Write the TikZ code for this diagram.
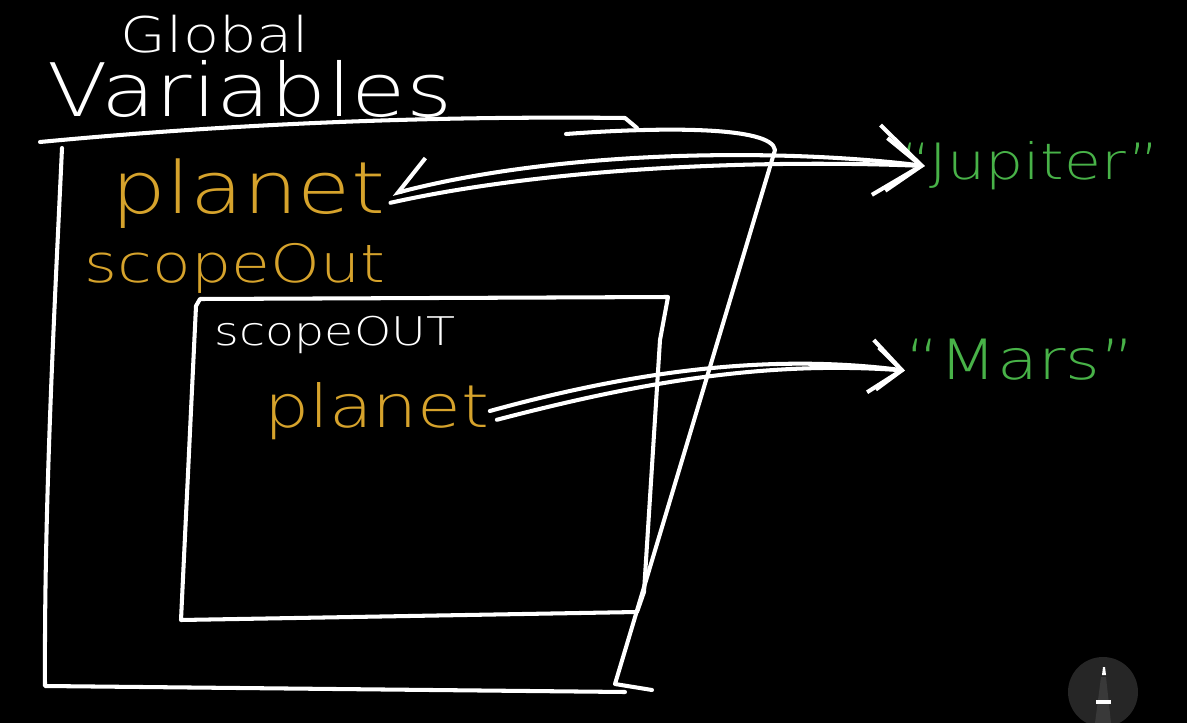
\documentclass[tikz,border=0pt]{standalone}
\usepackage{fontspec}
\usepackage{tikz}
\usetikzlibrary{arrows.meta, positioning}
\newfontfamily\hand[FakeStretch=1.2]{DejaVu Sans ExtraLight}
\definecolor{chalkgold}{RGB}{214,163,44}
\definecolor{chalkgreen}{RGB}{72,178,72}
\definecolor{penring}{RGB}{38,38,38}
\tikzset{
  chalk/.style={white, line width=2.3pt, line cap=round, line join=round},
  hw/.style={inner sep=0pt, font=\hand\fontsize{#1pt}{#1pt}\selectfont},
}

\begin{document}
\begin{tikzpicture}[x=0.02cm, y=-0.02cm]
\fill[black] (0,0) rectangle (1187,723);
\useasboundingbox (0,0) rectangle (1187,723);

% titles
\node[hw=28, white] (global) at (215,34) {Global};
\node[hw=42, white] (variables) at (250,89) {Variables};

% global scope box
\draw[chalk] (40,142) .. controls (250,122) and (450,116) .. (625,118) -- (637,128);
\draw[chalk] (62,148) .. controls (55,300) and (44,500) .. (45,686) -- (625,692);
\draw[chalk] (566,134) .. controls (660,127) and (772,126) .. (775,150) -- (615,684) -- (652,690);

% inner scope box
\draw[chalk] (196,306) -- (200,299) -- (668,297) -- (660,340) -- (644,592) -- (637,612) -- (181,620) -- cycle;

\node[hw=41, chalkgold] (planetG) at (248,194) {planet};
\node[hw=30, chalkgold] (scopeOutG) at (235,268) {scopeOut};
\node[hw=22.5, white] (scopeOutL) at (335,335) {scopeOUT};
\node[hw=33.7, chalkgold] (planetL) at (377,411) {planet};

\node[hw=28.5, chalkgreen] (jupiter) at (1030,166) {“Jupiter”};
\node[hw=31.6, chalkgreen] (mars) at (1020,360) {“Mars”};

% references
\draw[chalk, {Straight Barb[harpoon, swap, length=20pt, width=30pt]}-{Straight Barb[length=26pt, width=40pt]}]
  ([xshift=4pt]planetG.east) .. controls (560,150) and (780,148) .. ([xshift=14pt]jupiter.west);
\draw[chalk, -{Straight Barb[length=20pt, width=30pt]}]
  ([xshift=3pt, yshift=-5pt]planetG.east) .. controls (560,165) and (780,160) .. ([xshift=14pt]jupiter.west);
\draw[chalk, -{Straight Barb[length=18pt, width=30pt]}]
  (planetL.east) .. controls (620,375) and (760,352) .. ([yshift=-6pt]mars.west);
\draw[chalk, -{Straight Barb[length=14pt, width=24pt]}]
  ([xshift=4pt, yshift=-5pt]planetL.east) .. controls (630,385) and (760,360) .. ([yshift=-6pt]mars.west);

% pen button
\fill[penring] (1103,692) circle (35);
\fill[gray!45!black] (1101,677) -- (1106,677) -- (1111,723) -- (1095,723) -- cycle;
\fill[white] (1103,667) -- (1105,667) -- (1106,675) -- (1102,675) -- cycle;
\fill[white] (1096,700) rectangle (1111,704);
\end{tikzpicture}
\end{document}
